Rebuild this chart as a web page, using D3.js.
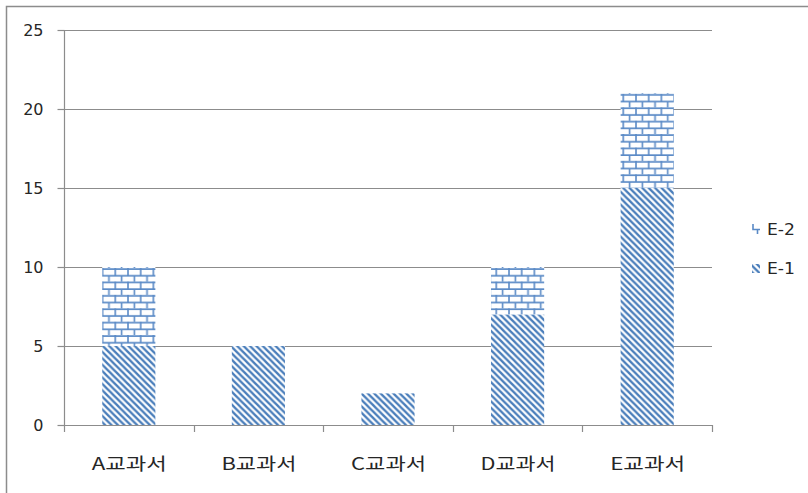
<!DOCTYPE html>
<html><head><meta charset="utf-8">
<script src="https://cdn.jsdelivr.net/npm/d3@7"></script>
<style>body{margin:0;background:#fff}svg{display:block}</style>
</head><body>
<script>
const categories = ["A교과서","B교과서","C교과서","D교과서","E교과서"];
const seriesNames = ["E-1","E-2"];
const e1 = [5,5,2,7,15];
const e2 = [5,0,0,3,6];
const yTicks = [0,5,10,15,20,25];

const W=808,H=493;
const svg=d3.select("body").append("svg").attr("width",W).attr("height",H);
const blue="#4A7EBB", grid="#8C8C8C", txt="#262626";

const defs=svg.append("defs");
const p=6.4;
const diag=defs.append("pattern").attr("id","diag").attr("patternUnits","userSpaceOnUse").attr("width",p).attr("height",p);
diag.append("rect").attr("width",p).attr("height",p).attr("fill","#fff");
diag.append("path").attr("d",`M${-p/2},${p/2}L${p/2},${p*1.5}M0,0L${p},${p}M${p/2},${-p/2}L${p*1.5},${p/2}`)
  .attr("stroke",blue).attr("stroke-width",2.4);
const bw=12.7,bh=6.7;
const brick=defs.append("pattern").attr("id","brick").attr("patternUnits","userSpaceOnUse").attr("width",bw).attr("height",bh*2);
brick.append("rect").attr("width",bw).attr("height",bh*2).attr("fill","#fff");
brick.append("path").attr("d",`M0,1L${bw},1M0,${bh+1}L${bw},${bh+1}M1,0L1,${bh+1}M${bw/2+1},${bh+1}L${bw/2+1},${bh*2}`)
  .attr("stroke","#5A8AC6").attr("stroke-width",1.6).attr("fill","none");

svg.append("path").attr("d","M6.5,493V6.5H808").attr("stroke","#8C8C8C").attr("stroke-width",1.5).attr("fill","none");

const x=d3.scaleBand().domain(categories).range([64,712]).paddingInner(0.59).paddingOuter(0.295);
const y=d3.scaleLinear().domain([0,25]).range([425,30]);

svg.append("g").selectAll("line").data(yTicks.filter(d=>d>0)).join("line")
  .attr("x1",64).attr("x2",712).attr("y1",d=>Math.round(y(d))+0.5).attr("y2",d=>Math.round(y(d))+0.5)
  .attr("stroke",grid).attr("stroke-width",1.2);

const stack=d3.stack().keys(seriesNames)(categories.map((c,i)=>({cat:c,"E-1":e1[i],"E-2":e2[i]})));
const fills={"E-1":"url(#diag)","E-2":"url(#brick)"};
svg.append("g").selectAll("g").data(stack).join("g").attr("fill",d=>fills[d.key])
  .selectAll("rect").data(d=>d).join("rect")
  .attr("x",d=>x(d.data.cat)).attr("width",x.bandwidth())
  .attr("y",d=>y(d[1])).attr("height",d=>y(d[0])-y(d[1]));

const ya=svg.append("g").attr("transform","translate(64.5,0)")
  .call(d3.axisLeft(y).tickValues(yTicks).tickSize(7).tickPadding(14));
ya.select(".domain").attr("stroke",grid).attr("stroke-width",1.2).attr("d","M0,30V425");
ya.selectAll(".tick line").attr("stroke",grid).attr("stroke-width",1.2);
ya.selectAll(".tick text").attr("fill",txt).style("font-family","'DejaVu Sans',sans-serif").style("font-size","16px");

const step=x.step();
const bounds=d3.range(categories.length+1).map(i=>64+i*step);
svg.append("line").attr("x1",64).attr("x2",712).attr("y1",425.5).attr("y2",425.5).attr("stroke",grid).attr("stroke-width",1.2);
svg.append("g").selectAll("line").data(bounds).join("line")
  .attr("x1",d=>Math.round(d)+0.5).attr("x2",d=>Math.round(d)+0.5).attr("y1",425).attr("y2",432)
  .attr("stroke",grid).attr("stroke-width",1.2);
svg.append("g").selectAll("text").data(categories).join("text")
  .attr("x",d=>x(d)+x.bandwidth()/2-37).attr("y",470)
  .attr("textLength",75).attr("lengthAdjust","spacingAndGlyphs")
  .style("font-family","'Noto Sans CJK KR',sans-serif").style("font-size","17px").attr("fill",txt)
  .text(d=>d);

// legend
const leg=[{k:"E-2",y:229},{k:"E-1",y:268}];
const lg=svg.append("g").selectAll("g").data(leg).join("g");
lg.filter(d=>d.k==="E-1").append("rect").attr("x",752).attr("y",d=>d.y-4).attr("width",8).attr("height",9).attr("fill",fills["E-1"]);
lg.filter(d=>d.k==="E-2").append("path")
  .attr("d",d=>`M753,${d.y-5}V${d.y}.5H760M757.5,${d.y}V${d.y+5}`)
  .attr("stroke","#5A8AC6").attr("stroke-width",1.6).attr("fill","none");
lg.append("text").attr("x",767).attr("y",d=>d.y+6).text(d=>d.k)
  .attr("textLength",28).attr("lengthAdjust","spacingAndGlyphs")
  .style("font-family","'DejaVu Sans',sans-serif").style("font-size","16px").attr("fill",txt);
</script>
</body></html>
